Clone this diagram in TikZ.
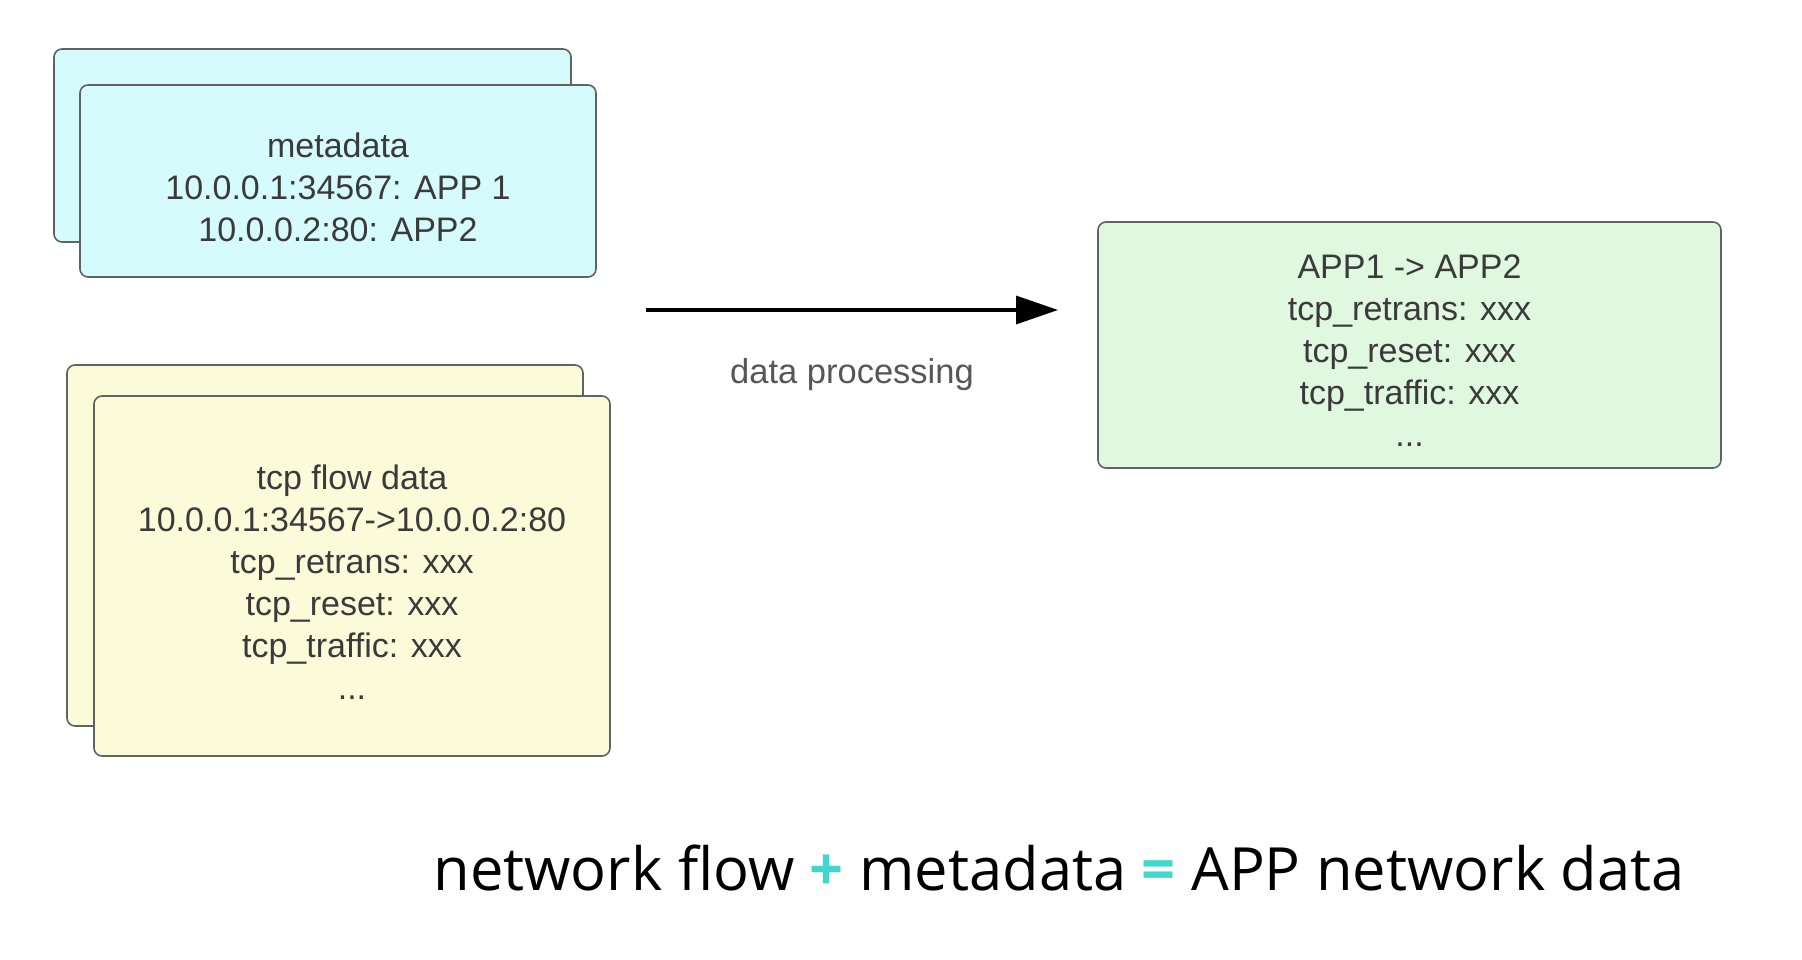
\documentclass[tikz,border=0pt]{standalone}
\usepackage{fontspec}
\setmainfont{Liberation Sans}
\newfontfamily\eqfont{Open Sans}
\usetikzlibrary{arrows.meta}
\definecolor{metablue}{HTML}{D6FBFC}
\definecolor{flowyellow}{HTML}{FBFBDA}
\definecolor{appgreen}{HTML}{E0F8DF}
\definecolor{cardline}{HTML}{5F6363}
\definecolor{cardtext}{HTML}{3A3A3A}
\definecolor{eqteal}{HTML}{3FD8CB}
\tikzset{
  card/.style={draw=cardline,line width=1.6pt,rounded corners=8pt,inner sep=0pt},
  cardtxt/.style={text=cardtext,align=center,font=\fontsize{34}{42}\selectfont},
}
\begin{document}
\begin{tikzpicture}[x=1pt,y=-1pt]
        \useasboundingbox (0,0) rectangle (1802,960);
        % metadata cards
        \draw (312.5,145.5) node[card,fill=metablue,minimum width=517pt,minimum height=193pt](mback){};
        \draw (338,181) node[card,fill=metablue,minimum width=516pt,minimum height=192pt](mfront){};
        \node[cardtxt](mtxt) at ([yshift=-6pt]mfront.center) {metadata\\10.0.0.1:34567: APP 1\\10.0.0.2:80: APP2};
        % tcp flow cards
        \draw (325,545.5) node[card,fill=flowyellow,minimum width=516pt,minimum height=361pt](fback){};
        \draw (352,576) node[card,fill=flowyellow,minimum width=516pt,minimum height=360pt](ffront){};
        \node[cardtxt](ftxt) at ([yshift=-6pt]ffront.center) {tcp flow data\\10.0.0.1:34567->10.0.0.2:80\\tcp\_retrans: xxx\\tcp\_reset: xxx\\tcp\_traffic: xxx\\...};
        % result
        \draw (1409.5,345) node[card,fill=appgreen,minimum width=623pt,minimum height=246pt](app){};
        \node[cardtxt](apptxt) at ([yshift=-6pt]app.center) {APP1 -> APP2\\tcp\_retrans: xxx\\tcp\_reset: xxx\\tcp\_traffic: xxx\\...};
        \coordinate (a1) at (646,310);
        \coordinate (a2) at (1058,310);
        \draw[line width=3.5pt,-{Triangle[length=42pt,width=28pt]}]
          (a1) -- node[below=43pt,text=cardtext!85,font=\fontsize{34.5}{42}\selectfont](proc){data processing} (a2)
        ;
        \node[anchor=base west,font=\eqfont\fontsize{59.6}{70}\selectfont](eq) at (430,890)
          {network flow {\color{eqteal}\bfseries+} metadata {\color{eqteal}\bfseries=} APP network data};
      \end{tikzpicture}
\end{document}
